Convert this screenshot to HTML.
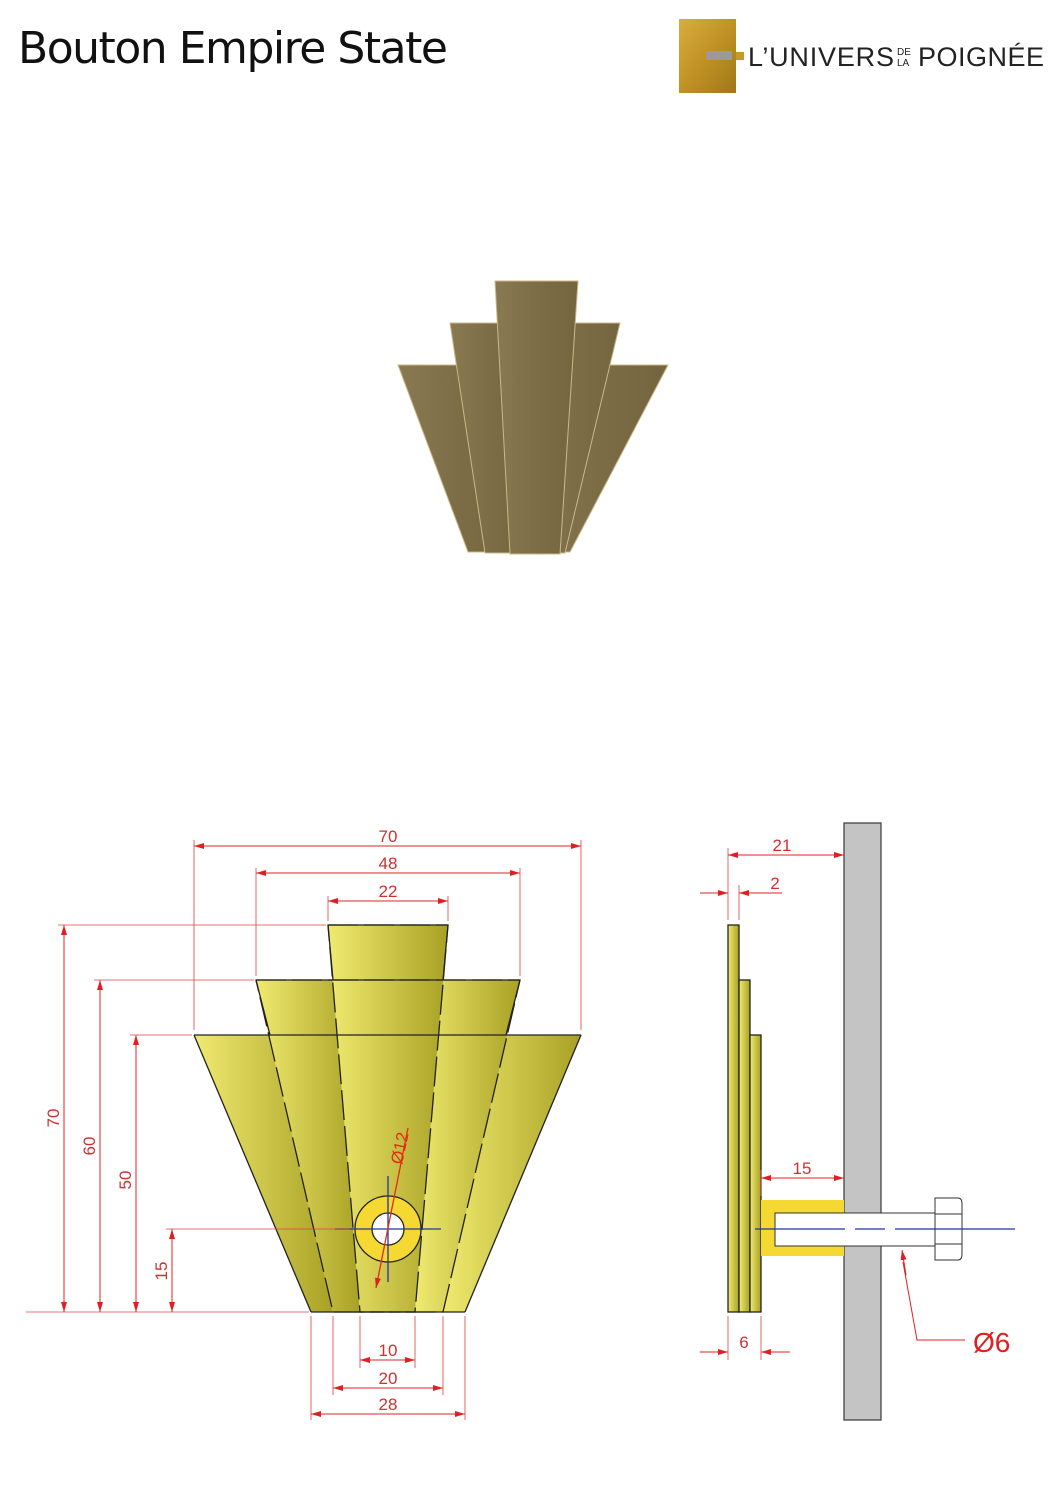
<!DOCTYPE html>
<html><head><meta charset="utf-8"><style>
html,body{margin:0;padding:0;background:#fff;}
body{width:1058px;height:1497px;overflow:hidden;position:relative;}
svg{position:absolute;left:0;top:0;}
</style></head><body>
<svg width="1058" height="1497" viewBox="0 0 1058 1497" xmlns="http://www.w3.org/2000/svg" font-family="Liberation Sans, sans-serif">
<defs>
<linearGradient id="y" x1="0" x2="1" y1="0" y2="0"><stop offset="0" stop-color="#f0ea70"/><stop offset="1" stop-color="#a8a124"/></linearGradient>
<linearGradient id="b" x1="0" x2="1"><stop offset="0" stop-color="#8a7a52"/><stop offset="0.5" stop-color="#7d6d47"/><stop offset="1" stop-color="#74653f"/></linearGradient>
<linearGradient id="g" x1="0" x2="1" y1="0" y2="1"><stop offset="0" stop-color="#d7ae3e"/><stop offset="0.5" stop-color="#c09225"/><stop offset="1" stop-color="#9f7818"/></linearGradient>
<marker id="a" viewBox="0 0 10 6" refX="10" refY="3" markerWidth="10" markerHeight="6" orient="auto-start-reverse" markerUnits="userSpaceOnUse"><path d="M0,0L10,3L0,6z" fill="#e02020"/></marker>
</defs>
<text x="18" y="63" font-size="44" fill="#111" font-family="DejaVu Sans, sans-serif" textLength="430">Bouton Empire State</text>
<!-- logo -->
<rect x="679" y="19" width="57" height="74" fill="url(#g)"/>
<rect x="706" y="51" width="26" height="9" fill="#9a9a9a"/>
<rect x="736" y="52" width="8" height="8" fill="#c69a2a"/>
<text x="748" y="66" font-size="27" fill="#222" textLength="146">L’UNIVERS</text>
<text x="897" y="55" font-size="10" fill="#222">DE</text>
<text x="897" y="66" font-size="10" fill="#222">LA</text>
<text x="918" y="66" font-size="27" fill="#222" textLength="126">POIGNÉE</text>
<!-- photo -->
<g stroke="#c9b887" stroke-width="1">
<polygon points="398,365 495,365 520,552 468,552" fill="url(#b)"/>
<polygon points="570,365 668,365 570,552 520,552" fill="url(#b)"/>
<polygon points="450,323 525,323 528,553 485,553" fill="url(#b)"/>
<polygon points="545,323 620,323 565,553 528,553" fill="url(#b)"/>
<polygon points="495,281 578,281 560,554 510,554" fill="url(#b)"/>
</g>
<!-- front view strips -->
<g fill="url(#y)">
<polygon points="194,1035 270,1035 333,1312 311,1312"/>
<polygon points="256,980 333,980 360,1312 333,1312"/>
<polygon points="328,925 448,925 415,1312 360,1312"/>
<polygon points="443,980 520,980 443,1312 415,1312"/>
<polygon points="507,1035 581,1035 465,1312 443,1312"/>
</g>
<g stroke="#222" stroke-width="1.3" fill="none">
<polygon points="256,980 520,980 443,1312 333,1312" stroke-dasharray="30 6"/>
<polygon points="328,925 448,925 415,1312 360,1312" stroke-dasharray="30 6"/>
<line x1="256" y1="980" x2="520" y2="980"/><line x1="194" y1="1035" x2="581" y2="1035"/>
<line x1="328" y1="925" x2="448" y2="925"/><line x1="311" y1="1312" x2="465" y2="1312"/>
<line x1="194" y1="1035" x2="311" y2="1312"/><line x1="581" y1="1035" x2="465" y2="1312"/>
<line x1="256" y1="980" x2="270" y2="1035"/><line x1="520" y1="980" x2="506" y2="1035"/>
<line x1="328" y1="925" x2="333" y2="980"/><line x1="448" y1="925" x2="443" y2="980"/>
</g>
<circle cx="388" cy="1229" r="33" fill="#f5d832" stroke="#222" stroke-width="1.3"/>
<circle cx="388" cy="1229" r="16" fill="#fff" stroke="#222" stroke-width="1.3"/>
<g stroke="#2233aa" stroke-width="1.3"><line x1="335" y1="1229" x2="441" y2="1229"/><line x1="388" y1="1176" x2="388" y2="1282"/></g>
<line x1="408" y1="1128" x2="376" y2="1288" stroke="#e03010" stroke-width="1.3" marker-end="url(#a)"/>
<text x="0" y="0" font-size="17" fill="#e03010" transform="translate(402,1165) rotate(-78)">Ø12</text>
<g stroke="#e04040" stroke-width="0.8" fill="none">
<line x1="194" y1="1030" x2="194" y2="840"/><line x1="581" y1="1030" x2="581" y2="840"/>
<line x1="256" y1="976" x2="256" y2="868"/><line x1="520" y1="976" x2="520" y2="868"/>
<line x1="328" y1="921" x2="328" y2="896"/><line x1="448" y1="921" x2="448" y2="896"/>
<line x1="58" y1="925" x2="326" y2="925"/><line x1="94" y1="980" x2="254" y2="980"/>
<line x1="130" y1="1035" x2="192" y2="1035"/><line x1="166" y1="1229" x2="350" y2="1229"/>
<line x1="26" y1="1312" x2="309" y2="1312"/>
<line x1="311" y1="1316" x2="311" y2="1420"/><line x1="465" y1="1316" x2="465" y2="1420"/>
<line x1="333" y1="1316" x2="333" y2="1395"/><line x1="443" y1="1316" x2="443" y2="1395"/>
<line x1="360" y1="1316" x2="360" y2="1368"/><line x1="415" y1="1316" x2="415" y2="1368"/>
</g>
<g stroke="#e02020" stroke-width="1" marker-start="url(#a)" marker-end="url(#a)">
<line x1="194" y1="846" x2="581" y2="846"/><line x1="256" y1="873" x2="520" y2="873"/><line x1="328" y1="901" x2="448" y2="901"/>
<line x1="64" y1="925" x2="64" y2="1312"/><line x1="100" y1="980" x2="100" y2="1312"/><line x1="136" y1="1035" x2="136" y2="1312"/><line x1="172" y1="1229" x2="172" y2="1312"/>
<line x1="360" y1="1360" x2="415" y2="1360"/><line x1="333" y1="1388" x2="443" y2="1388"/><line x1="311" y1="1414" x2="465" y2="1414"/>
</g>
<g font-size="17" fill="#d03030" text-anchor="middle">
<text x="388" y="842">70</text><text x="388" y="869">48</text><text x="388" y="897">22</text>
<text x="388" y="1356">10</text><text x="388" y="1384">20</text><text x="388" y="1410">28</text>
<text transform="translate(59,1118) rotate(-90)">70</text>
<text transform="translate(95,1146) rotate(-90)">60</text>
<text transform="translate(131,1180) rotate(-90)">50</text>
<text transform="translate(167,1271) rotate(-90)">15</text>
</g>
<!-- side view -->
<rect x="844" y="823" width="37" height="597" fill="#c4c4c4" stroke="#444" stroke-width="1.3"/>
<g stroke="#222" stroke-width="1.3" fill="url(#y)">
<rect x="728" y="925" width="11" height="387"/><rect x="739" y="980" width="11" height="332"/><rect x="750" y="1035" width="11" height="277"/>
</g>
<rect x="761" y="1200" width="83" height="56" fill="#f5d832"/>
<rect x="775" y="1213" width="160" height="33" fill="#fff" stroke="#333" stroke-width="1"/>
<path d="M935,1198 H958 Q962,1198 962,1204 V1254 Q962,1260 958,1260 H935 Z M935,1214 H962 M935,1244 H962" fill="#fff" stroke="#333" stroke-width="1"/>
<line x1="755" y1="1229" x2="1015" y2="1229" stroke="#2233aa" stroke-width="1.2" stroke-dasharray="90 10 30 10 60 0"/>
<g stroke="#e04040" stroke-width="0.8">
<line x1="728" y1="920" x2="728" y2="848"/><line x1="739" y1="920" x2="739" y2="885"/>
<line x1="761" y1="1196" x2="761" y2="1170"/>
<line x1="728" y1="1316" x2="728" y2="1360"/><line x1="761" y1="1316" x2="761" y2="1360"/>
</g>
<g stroke="#e02020" stroke-width="1" fill="none">
<line x1="728" y1="855" x2="844" y2="855" marker-start="url(#a)" marker-end="url(#a)"/>
<line x1="761" y1="1178" x2="844" y2="1178" marker-start="url(#a)" marker-end="url(#a)"/>
<line x1="700" y1="893" x2="728" y2="893" marker-end="url(#a)"/><line x1="782" y1="893" x2="739" y2="893" marker-end="url(#a)"/>
<line x1="700" y1="1352" x2="728" y2="1352" marker-end="url(#a)"/><line x1="790" y1="1352" x2="761" y2="1352" marker-end="url(#a)"/>
<polyline points="965,1340 917,1340 903,1262"/>
<line x1="906" y1="1275" x2="902" y2="1250" marker-end="url(#a)"/>
</g>
<g font-size="17" fill="#d03030" text-anchor="middle">
<text x="782" y="851">21</text><text x="775" y="889">2</text><text x="802" y="1174">15</text><text x="744" y="1348">6</text>
</g>
<text x="973" y="1352" font-size="28" fill="#e02020">Ø6</text>
</svg>
</body></html>
